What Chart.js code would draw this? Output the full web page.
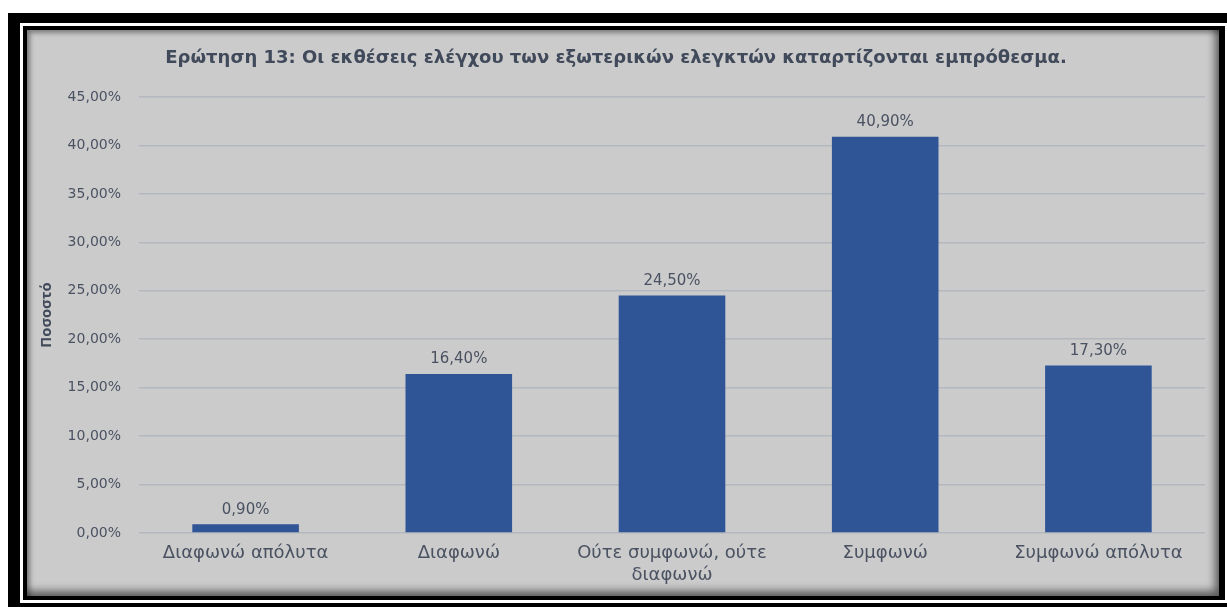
<!DOCTYPE html>
<html>
<head>
<meta charset="utf-8">
<script src="https://cdn.jsdelivr.net/npm/chart.js@4/dist/chart.umd.min.js"></script>
<style>
  html, body { margin: 0; padding: 0; background: #ffffff; width: 1227px; height: 607px; overflow: hidden; position: relative; }
  .frame-outer { position: absolute; left: 8px; top: 13px; width: 1240px; height: 600px; background: #000; }
  .frame-white { position: absolute; left: 20px; top: 23px; width: 1220px; height: 580px; background: #fff; }
  .frame-inner { position: absolute; left: 23px; top: 26px; width: 1202px; height: 574px; background: #000; }
  .panel {
    position: absolute; left: 27px; top: 30px; width: 1192px; height: 566px;
    background: #cbcbcb;
    box-shadow: inset -4px -5px 8px rgba(0,0,0,0.55), inset 3px 3px 5px rgba(0,0,0,0.35);
  }
  .panel canvas { position: absolute; left: 0; top: 0; }
</style>
</head>
<body>
<div class="frame-outer"></div>
<div class="frame-white"></div>
<div class="frame-inner"></div>
<div class="panel"><canvas id="chart" width="1192" height="566"></canvas></div>
<script>
// Survey answers and their shares (percent)
const categories = [
  'Διαφωνώ απόλυτα',
  'Διαφωνώ',
  ['Ούτε συμφωνώ, ούτε', 'διαφωνώ'],
  'Συμφωνώ',
  'Συμφωνώ απόλυτα'
];
const shares = [0.9, 16.4, 24.5, 40.9, 17.3];
const yTicks = [0, 5, 10, 15, 20, 25, 30, 35, 40, 45];

const titleText = 'Ερώτηση 13: Οι εκθέσεις ελέγχου των εξωτερικών ελεγκτών καταρτίζονται εμπρόθεσμα.';
const axisTitle = 'Ποσοστό';

const textColor = '#4a5262';
const fontFamily = '"DejaVu Sans", sans-serif';
const axisTitleFamily = '"Open Sans", "Noto Sans", sans-serif';

const fmtPct = v => v.toFixed(2).replace('.', ',') + '%';

// Value labels drawn above each bar
const valueLabels = {
  id: 'valueLabels',
  afterDatasetsDraw(chart) {
    const ctx = chart.ctx;
    const meta = chart.getDatasetMeta(0);
    ctx.save();
    ctx.font = '15px ' + fontFamily;
    ctx.fillStyle = textColor;
    ctx.textAlign = 'center';
    ctx.textBaseline = 'middle';
    meta.data.forEach((bar, i) => {
      ctx.fillText(fmtPct(shares[i]), bar.x, bar.y - 14.5);
    });
    ctx.restore();
  }
};

new Chart(document.getElementById('chart'), {
  type: 'bar',
  data: {
    labels: categories,
    datasets: [{
      data: shares,
      backgroundColor: '#2f5597',
      borderWidth: 0,
      categoryPercentage: 1,
      barPercentage: 0.5
    }]
  },
  options: {
    responsive: false,
    animation: false,
    layout: { padding: { left: 0, right: 14, top: 0, bottom: 0 } },
    plugins: {
      legend: { display: false },
      tooltip: { enabled: false },
      title: {
        display: true,
        text: titleText,
        color: '#404a5a',
        font: { family: fontFamily, size: 18, weight: 'bold', lineHeight: 1.2 },
        padding: { top: 17.7, bottom: 27.7 }
      }
    },
    scales: {
      x: {
        grid: { display: false, drawTicks: false },
        border: { display: false },
        ticks: {
          color: textColor,
          padding: 9,
          maxRotation: 0,
          autoSkip: false,
          font: { family: fontFamily, size: 18, lineHeight: 22 / 18 }
        },
        afterFit(scale) { scale.height = 63; }
      },
      y: {
        min: 0,
        max: 45,
        afterBuildTicks(scale) { scale.ticks = yTicks.map(v => ({ value: v })); },
        grid: { color: '#b3b8bf', lineWidth: 1.5, drawTicks: false },
        border: { display: false },
        ticks: {
          color: textColor,
          padding: 18,
          font: { family: fontFamily, size: 14 },
          callback: v => fmtPct(v)
        },
        title: {
          display: true,
          text: axisTitle,
          color: '#404a5a',
          font: { family: axisTitleFamily, size: 14.7, weight: 'bold', lineHeight: 1.2 },
          padding: { top: 11.2, bottom: 0 }
        },
        afterFit(scale) { scale.width = 112; }
      }
    }
  },
  plugins: [valueLabels]
});
</script>
</body>
</html>
